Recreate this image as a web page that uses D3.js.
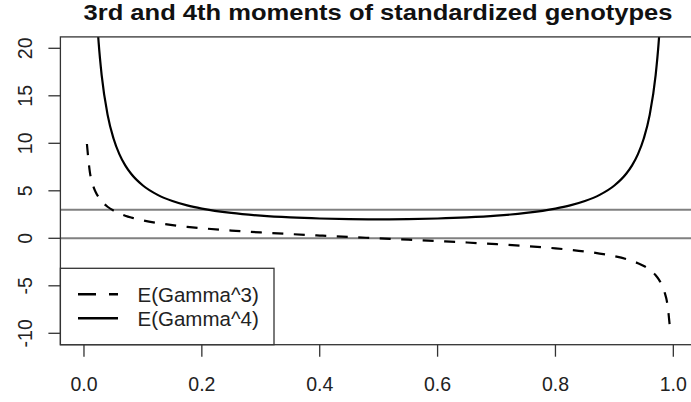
<!DOCTYPE html>
<html>
<head>
<meta charset="utf-8">
<script src="https://cdn.jsdelivr.net/npm/d3@7"></script>
<style>
  body { margin: 0; background: #fff; }
  svg { display: block; font-family: "Liberation Sans", Arial, sans-serif; }
</style>
</head>
<body>
<div id="chart"></div>
<script>
// allele frequency p (x) and the two moments
const freqs = [0.005, 0.01, 0.015, 0.02, 0.025, 0.03, 0.04, 0.05, 0.06, 0.07, 0.08, 0.10,
  0.125, 0.15, 0.175, 0.2, 0.25, 0.3, 0.35, 0.4, 0.45, 0.5,
  0.55, 0.6, 0.65, 0.7, 0.75, 0.8, 0.825, 0.85, 0.875, 0.9,
  0.92, 0.93, 0.94, 0.95, 0.96, 0.97, 0.975, 0.98, 0.985, 0.99, 0.995];

const gamma3 = [9.925, 6.965, 5.643, 4.849, 4.303, 3.896, 3.320, 2.920, 2.620, 2.383, 2.189, 1.886,
  1.604, 1.386, 1.210, 1.061, 0.8165, 0.6172, 0.4447, 0.2887, 0.1421, 0,
  -0.1421, -0.2887, -0.4447, -0.6172, -0.8165, -1.061, -1.210, -1.386, -1.604, -1.886,
  -2.189, -2.383, -2.620, -2.920, -3.320, -3.896, -4.303, -4.849, -5.643, -6.965, -9.925];

const gamma4 = [100.5, 50.51, 33.84, 25.51, 20.51, 17.18, 13.02, 10.53, 8.865, 7.680, 6.793, 5.556,
  4.571, 3.922, 3.463, 3.125, 2.667, 2.381, 2.198, 2.083, 2.020, 2.000,
  2.020, 2.083, 2.198, 2.381, 2.667, 3.125, 3.463, 3.922, 4.571, 5.556,
  6.793, 7.680, 8.865, 10.53, 13.02, 17.18, 20.51, 25.51, 33.84, 50.51, 100.5];

const xTicks = [0, 0.2, 0.4, 0.6, 0.8, 1.0];
const yTicks = [-10, -5, 0, 5, 10, 15, 20];
const refLines = [0, 3];
const legendLabels = ['E(Gamma^3)', 'E(Gamma^4)'];
const titleText = '3rd and 4th moments of standardized genotypes';

const width = 691, height = 402;
const plot = { left: 60.4, right: 696.9, top: 36.9, bottom: 344.7 };

const svg = d3.select('#chart').append('svg')
    .attr('width', width)
    .attr('height', height);

const x = d3.scaleLinear().domain([-0.04, 1.04]).range([plot.left, plot.right]);
const y = d3.scaleLinear().domain([-11.2, 21.2]).range([plot.bottom, plot.top]);

// 클립 영역
svg.append('clipPath').attr('id', 'clip')
  .append('rect')
    .attr('x', plot.left)
    .attr('y', plot.top)
    .attr('width', plot.right - plot.left)
    .attr('height', plot.bottom - plot.top);

// title
svg.append('text')
    .attr('x', 378)
    .attr('y', 20)
    .attr('text-anchor', 'middle')
    .attr('font-size', 22)
    .attr('font-weight', 'bold')
    .attr('fill', '#111')
    .attr('textLength', 589)
    .attr('lengthAdjust', 'spacingAndGlyphs')
    .text(titleText);

// reference lines
svg.selectAll('.ref-line')
  .data(refLines)
  .enter().append('line')
    .attr('class', 'ref-line')
    .attr('x1', plot.left)
    .attr('x2', plot.right)
    .attr('y1', d => y(d))
    .attr('y2', d => y(d))
    .attr('stroke', '#808080')
    .attr('stroke-width', 2);

const g = svg.append('g').attr('clip-path', 'url(#clip)');

const line3 = d3.line()
    .x((d, i) => x(freqs[i]))
    .y(d => y(d))
    .curve(d3.curveMonotoneX);

g.append('path')
    .datum(gamma3)
    .attr('d', line3)
    .attr('fill', 'none')
    .attr('stroke', '#000')
    .attr('stroke-width', 2.2)
    .attr('stroke-dasharray', '11,10.5');

g.append('path')
    .datum(gamma4)
    .attr('d', line3)
    .attr('fill', 'none')
    .attr('stroke', '#000')
    .attr('stroke-width', 2.2);

// box
svg.append('rect')
    .attr('x', plot.left)
    .attr('y', plot.top)
    .attr('width', plot.right - plot.left)
    .attr('height', plot.bottom - plot.top)
    .attr('fill', 'none')
    .attr('stroke', '#333')
    .attr('stroke-width', 1.3);

// x axis
const xAxis = svg.append('g').attr('transform', `translate(0,${plot.bottom})`);
xAxis.selectAll('line')
  .data(xTicks)
  .enter().append('line')
    .attr('x1', d => x(d))
    .attr('x2', d => x(d))
    .attr('y1', 0)
    .attr('y2', 12)
    .attr('stroke', '#333')
    .attr('stroke-width', 1.3);
xAxis.selectAll('text')
  .data(xTicks)
  .enter().append('text')
    .attr('x', d => x(d))
    .attr('y', 46.5)
    .attr('text-anchor', 'middle')
    .attr('font-size', 19.5)
    .attr('fill', '#222')
    .text(d => d3.format('.1f')(d));

// y axis
const yAxis = svg.append('g').attr('transform', `translate(${plot.left},0)`);
yAxis.selectAll('line')
  .data(yTicks)
  .enter().append('line')
    .attr('x1', -12)
    .attr('x2', 0)
    .attr('y1', d => y(d))
    .attr('y2', d => y(d))
    .attr('stroke', '#333')
    .attr('stroke-width', 1.3);
yAxis.selectAll('text')
  .data(yTicks)
  .enter().append('text')
    .attr('transform', d => `translate(-28.5,${y(d)}) rotate(-90)`)
    .attr('text-anchor', 'middle')
    .attr('font-size', 19.5)
    .attr('fill', '#222')
    .text(d => d);

// legend (bottomleft)
const legend = svg.append('g');
legend.append('rect')
    .attr('x', plot.left)
    .attr('y', 268.3)
    .attr('width', 274 - plot.left)
    .attr('height', plot.bottom - 268.3)
    .attr('fill', '#fff')
    .attr('stroke', '#333')
    .attr('stroke-width', 1.3);

const legendRows = legend.selectAll('.legend-row')
  .data(legendLabels)
  .enter().append('g')
    .attr('class', 'legend-row')
    .attr('transform', (d, i) => `translate(0,${294.3 + i * 24})`);

legendRows.append('line')
    .attr('x1', 78)
    .attr('x2', 118)
    .attr('y1', 0)
    .attr('y2', 0)
    .attr('stroke', '#000')
    .attr('stroke-width', 2.4)
    .attr('stroke-dasharray', (d, i) => i === 0 ? '18,13,9' : null);

legendRows.append('text')
    .attr('x', 137.5)
    .attr('y', 0)
    .attr('dy', '0.36em')
    .attr('font-size', 20.5)
    .attr('fill', '#222')
    .text(d => d);
</script>
</body>
</html>
